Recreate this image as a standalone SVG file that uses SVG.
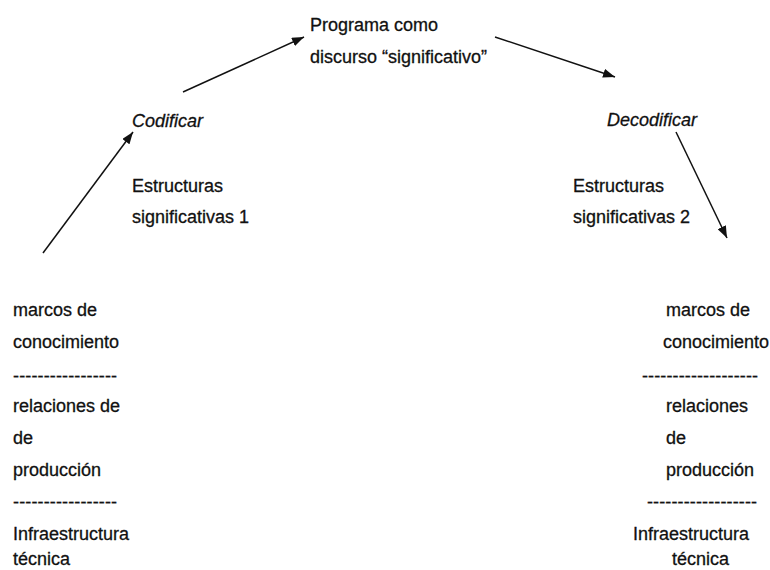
<svg xmlns="http://www.w3.org/2000/svg" width="770" height="570" viewBox="0 0 770 570">
<style>
text{font-family:"Liberation Sans",Arial,sans-serif;font-size:18px;fill:#111;stroke:#111;stroke-width:0.3}
.it{font-style:italic}
.conn line{stroke:#111;stroke-width:1.5;fill:none}
</style>
<defs>
<marker id="ah" markerUnits="userSpaceOnUse" markerWidth="12" markerHeight="9" refX="12" refY="4.5" orient="auto">
<path d="M0,0 L12,4.5 L0,9 z" fill="#111"/>
</marker>
</defs>
<rect width="770" height="570" fill="#fff"/>
<g id="programa">
<text x="310" y="31">Programa como</text>
<text x="310" y="63">discurso “significativo”</text>
</g>
<g id="codificar">
<text class="it" x="132" y="127">Codificar</text>
</g>
<g id="decodificar">
<text class="it" x="607" y="126">Decodificar</text>
</g>
<g id="estructuras1">
<text x="132" y="192">Estructuras</text>
<text x="132" y="223">significativas 1</text>
</g>
<g id="estructuras2">
<text x="573" y="192">Estructuras</text>
<text x="573" y="223">significativas 2</text>
</g>
<g id="emisor">
<text x="13" y="316">marcos de</text>
<text x="13" y="348">conocimiento</text>
<text x="13" y="382" textLength="104" lengthAdjust="spacing">-----------------</text>
<text x="13" y="412">relaciones de</text>
<text x="13" y="444">de</text>
<text x="13" y="476">producción</text>
<text x="13" y="508" textLength="104" lengthAdjust="spacing">-----------------</text>
<text x="13" y="540">Infraestructura</text>
<text x="13" y="565">técnica</text>
</g>
<g id="receptor">
<text x="666" y="316">marcos de</text>
<text x="663" y="348">conocimiento</text>
<text x="642" y="382" textLength="116" lengthAdjust="spacing">-------------------</text>
<text x="666" y="412">relaciones</text>
<text x="666" y="444">de</text>
<text x="666" y="476">producción</text>
<text x="647" y="508" textLength="110" lengthAdjust="spacing">------------------</text>
<text x="633" y="540">Infraestructura</text>
<text x="672" y="565">técnica</text>
</g>
<g id="connectors" class="conn">
<line x1="43" y1="253" x2="133" y2="132" marker-end="url(#ah)"/>
<line x1="183" y1="92" x2="304" y2="37" marker-end="url(#ah)"/>
<line x1="495" y1="37" x2="615" y2="77" marker-end="url(#ah)"/>
<line x1="676" y1="132" x2="727" y2="238" marker-end="url(#ah)"/>
</g>
</svg>
